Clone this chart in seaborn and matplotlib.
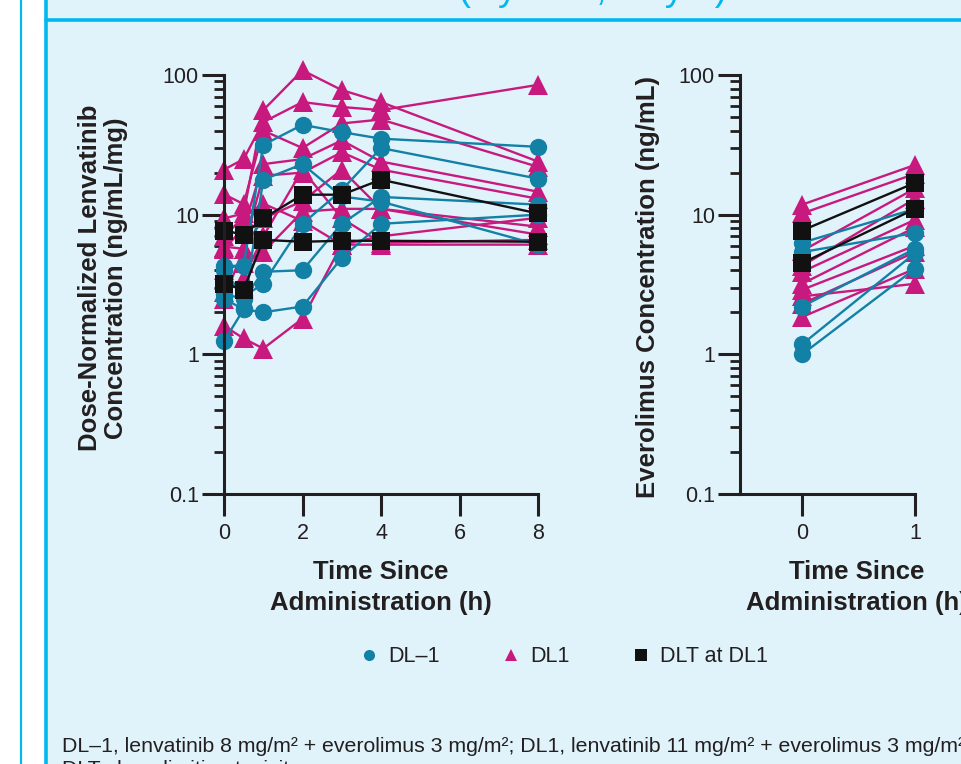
import pandas as pd
import matplotlib.pyplot as plt
import seaborn as sns
from matplotlib.lines import Line2D
from matplotlib.patches import Rectangle
from matplotlib.ticker import LogLocator, FuncFormatter, NullFormatter

# sampling times (h)
lenva_times = [0, 0.5, 1, 2, 3, 4, 8]
evero_times = [0, 1]

# dose-normalized lenvatinib (ng/mL/mg), one list per patient
lenva_dlm1 = [
    [4.3, 4.3, 31.6, 44, 39, 35, 30.6],
    [2.5, 2.1, 17.8, 23, 13.5, 12.4, 6.1],
    [4.0, 2.6, 3.2, 8.6, 15, 30, 18.1],
    [2.7, 2.5, 3.9, 4.0, 8.6, 13.4, 11.8],
    [1.24, 2.1, 2.0, 2.2, 4.9, 8.6, 10.0],
]
lenva_dl1 = [
    [9.4, 10.2, 56, 108, 78, 64, 24],
    [21, 25, 46, 64, 59, 56, 85],
    [14, 11.9, 40, 30, 45, 48, 22],
    [5.7, 8.0, 23, 25, 34, 24, 14.6],
    [2.5, 5.7, 19, 20, 28, 21, 13],
    [5.9, 5.7, 9.4, 12.5, 21, 11, 8.2],
    [1.6, 1.3, 1.1, 1.8, 6.1, 6.1, 6.1],
    [4.0, 4.5, 5.4, 10.5, 11, 11, 7.2],
    [2.8, 3.5, 7.0, 21, 9.4, 6.3, 6.6],
    [7.0, 9.6, 12, 9.0, 6.1, 7.0, 9.5],
]
lenva_dlt = [
    [7.7, 7.2, 9.4, 13.9, 13.9, 17.8, 10.2],
    [3.2, 2.9, 6.6, 6.4, 6.5, 6.5, 6.4],
]

# everolimus (ng/mL), [time 0, time 1] per patient
evero_dlm1 = [[6.3, 11.0], [5.4, 7.4], [2.2, 5.7], [1.18, 5.3], [1.0, 4.1]]
evero_dl1 = [[11.8, 22.7], [10.2, 19.6], [5.5, 15.4], [4.3, 13.0], [3.9, 9.2],
             [3.2, 8.1], [2.9, 6.0], [2.6, 3.2], [2.3, 5.4], [1.85, 4.1]]
evero_dlt = [[7.7, 16.9], [4.5, 11.0]]

groups = ['DL1', 'DL–1', 'DLT at DL1']
colors = {'DL–1': '#1380A6', 'DL1': '#C8197E', 'DLT at DL1': '#111111'}
markers = {'DL–1': 'o', 'DL1': '^', 'DLT at DL1': 's'}


def to_long(times, data):
    rows = []
    for grp, series in data.items():
        for i, vals in enumerate(series):
            for t, v in zip(times, vals):
                rows.append({'group': grp, 'patient': f'{grp}-{i}', 'time': t, 'conc': v})
    return pd.DataFrame(rows)


lenva_df = to_long(lenva_times, {'DL1': lenva_dl1, 'DL–1': lenva_dlm1, 'DLT at DL1': lenva_dlt})
evero_df = to_long(evero_times, {'DL1': evero_dl1, 'DL–1': evero_dlm1, 'DLT at DL1': evero_dlt})

sns.set_theme(style='ticks')
plt.rcParams['font.family'] = ['Liberation Sans', 'DejaVu Sans']

ink = '#231F20'
bg = '#E0F3FB'
cyan = '#00B8F0'

fig = plt.figure(figsize=(9.61, 7.64), dpi=100)
fig.patch.set_facecolor('white')
W, H = 961, 764

# poster panel background and borders
fig.add_artist(Rectangle((46 / W, 0), 1, 1, transform=fig.transFigure, color=bg, zorder=-10))
fig.add_artist(Line2D([21 / W] * 2, [0, 1], color=cyan, lw=1.6))
fig.add_artist(Line2D([45.5 / W] * 2, [0, 1], color=cyan, lw=2.6))
fig.add_artist(Line2D([46 / W, 1], [1 - 19.5 / H] * 2, color=cyan, lw=2.6))
fig.text(727 / W, 1 - 0.5 / H, 'Lenvatinib and Everolimus Plasma Concentrations (Cycle 1, Day 1)',
         ha='right', va='baseline', fontsize=27, color=cyan)

ax1 = fig.add_axes([224 / W, 1 - 494 / H, 314 / W, 419 / H])
ax2 = fig.add_axes([740 / W, 1 - 494 / H, 175 / W, 419 / H])

for ax, df in [(ax1, lenva_df), (ax2, evero_df)]:
    sns.lineplot(data=df, x='time', y='conc', hue='group', style='group', units='patient',
                 estimator=None, hue_order=groups, style_order=groups, palette=colors,
                 markers=markers, dashes=False, markersize=12.5, markeredgewidth=0,
                 linewidth=1.7, legend=False, ax=ax)
    for ln in ax.lines:
        ln.set_clip_on(False)
        if ln.get_marker() == '^':
            ln.set_markersize(14)
    ax.set_yscale('log')
    ax.set_ylim(0.1, 100)
    ax.set_facecolor('none')
    sns.despine(ax=ax)
    for s in ['left', 'bottom']:
        ax.spines[s].set_linewidth(2.2)
        ax.spines[s].set_color(ink)
    ax.yaxis.set_major_locator(LogLocator(base=10, numticks=10))
    ax.yaxis.set_minor_locator(LogLocator(base=10, subs=range(2, 10), numticks=10))
    ax.yaxis.set_major_formatter(FuncFormatter(lambda v, p: f'{v:g}'))
    ax.yaxis.set_minor_formatter(NullFormatter())
    ax.tick_params(which='major', length=16, width=2.2, color=ink, labelsize=15.5,
                   labelcolor=ink, pad=2)
    ax.tick_params(axis='x', which='major', pad=5)
    ax.tick_params(which='minor', length=7, width=2.0, color=ink)
    ax.grid(False)

ax1.set_xlim(0, 8)
ax1.set_xticks([0, 2, 4, 6, 8])
ax2.set_xlim(-0.55, 1)
ax2.set_xticks([0, 1])

lab = dict(fontsize=18.5, fontweight='bold', color=ink)
ax1.set_xlabel('Time Since\nAdministration (h)', linespacing=1.35, **lab)
ax1.xaxis.set_label_coords(0.5, -0.158)
ax2.set_xlabel('Time Since\nAdministration (h)', linespacing=1.35, **lab)
ax2.xaxis.set_label_coords(0.669, -0.158)
ax1.set_ylabel('Dose-Normalized Lenvatinib\nConcentration (ng/mL/mg)', linespacing=1.1, **lab)
ax1.yaxis.set_label_coords(-0.306, 0.515)
ax2.set_ylabel('Everolimus Concentration (ng/mL)', **lab)
ax2.yaxis.set_label_coords(-0.457, 0.493)

handles = [Line2D([], [], ls='none', marker=markers[g], color=colors[g], markersize=8,
                  markeredgewidth=0) for g in ['DL–1', 'DL1', 'DLT at DL1']]
fig.legend(handles, ['DL–1', 'DL1', 'DLT at DL1'], loc='center',
           bbox_to_anchor=(564 / W, 1 - 657 / H), ncol=3, frameon=False, fontsize=15.5,
           handlelength=0.8, handletextpad=0.5, columnspacing=2.9, labelcolor=ink)

fig.text(62 / W, 1 - 752 / H,
         'DL–1, lenvatinib 8 mg/m² + everolimus 3 mg/m²; DL1, lenvatinib 11 mg/m² + everolimus 3 mg/m²;',
         ha='left', va='baseline', fontsize=15.3, color=ink)
fig.text(62 / W, 1 - 775 / H, 'DLT, dose-limiting toxicity.',
         ha='left', va='baseline', fontsize=15.3, color=ink)

fig.savefig('out.png', dpi=100, facecolor=fig.get_facecolor())
